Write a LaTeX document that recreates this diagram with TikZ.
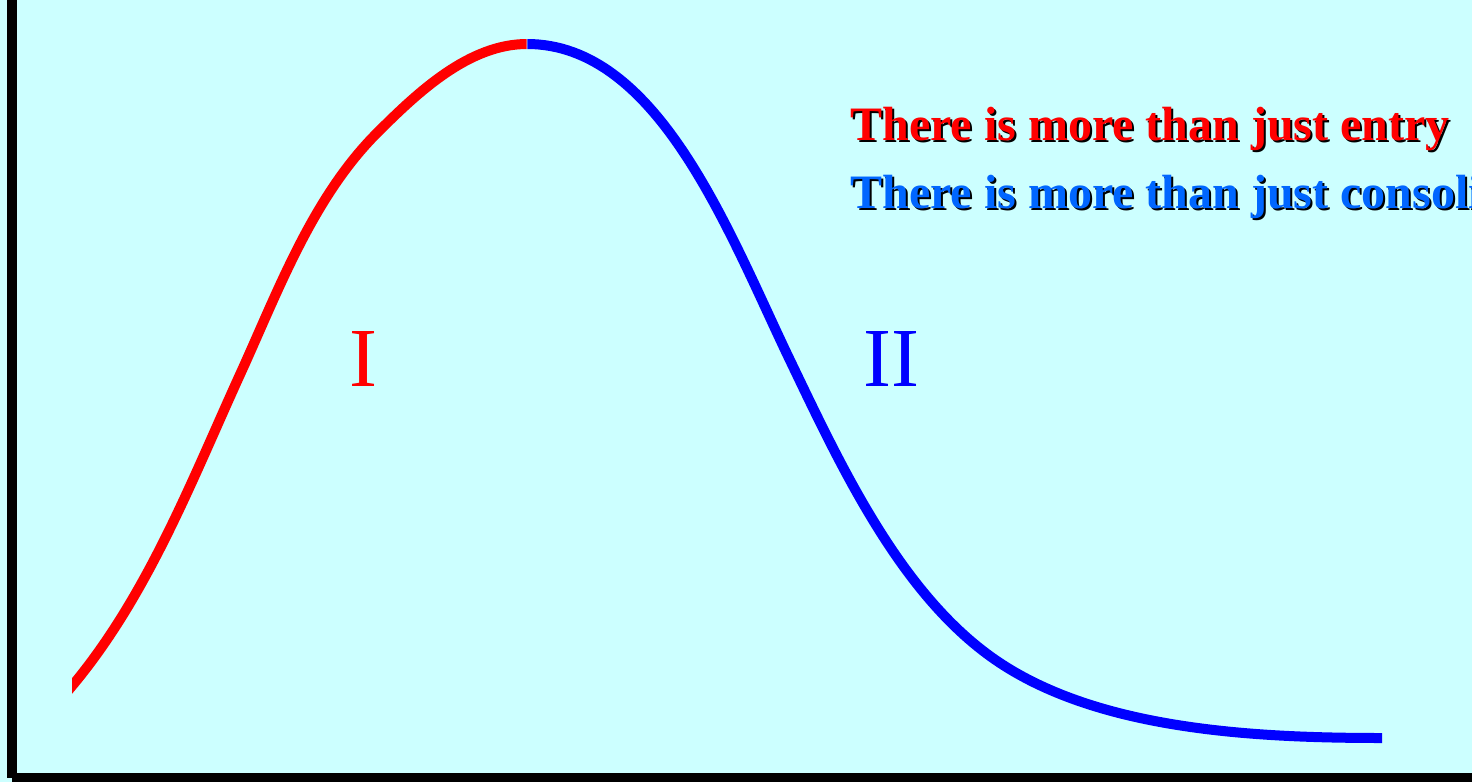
\documentclass[tikz,border=0pt]{standalone}
\usepackage{fontspec}
\setmainfont{Liberation Serif}
\definecolor{bg}{HTML}{CCFFFF}
\definecolor{curvered}{HTML}{FF0000}
\definecolor{curveblue}{HTML}{0000FF}
\definecolor{textblue}{HTML}{0066FF}
\tikzset{
  curve/.style={line width=5pt, line cap=butt, line join=round},
  heading/.style={anchor=base west, inner sep=0pt, font=\fontsize{24}{28}\selectfont\bfseries},
  phase/.style={anchor=base, inner sep=0pt, font=\fontsize{42}{48}\selectfont},
  axis/.style={fill=black}
}
\begin{document}
\begin{tikzpicture}[x=0.5pt,y=-0.5pt]
\fill[bg] (0,0) rectangle (1472,782);
\useasboundingbox (0,0) rectangle (1472,782);
\clip (0,0) rectangle (1472,782);
% axes
\fill[axis] (7,0) rectangle (17,778);
\fill[axis] (12,773) rectangle (1472,782);
% curve points
\coordinate (r0) at (62,698);
\coordinate (r1) at (72,686);
\coordinate (r2) at (243,368);
\coordinate (r3) at (377,133);
\coordinate (peak) at (527,44);
\coordinate (b1) at (787,354);
\coordinate (b2) at (1000,663);
\coordinate (b3) at (1382,738);
% red rising part
\begin{scope}
\clip (72,0) rectangle (526.6,782);
\draw[curve, curvered] (r0) -- (r1)
  .. controls (149,594) and (193,477) .. (r2)
  .. controls (280,286) and (314,196) .. (r3)
  .. controls (418,92) and (469,44) .. (peak);
\end{scope}
% blue falling part
\begin{scope}
\clip (527.4,0) rectangle (1382,782);
\draw[curve, curveblue] (peak)
  .. controls (657,44) and (727,228) .. (b1)
  .. controls (839,462) and (900,597) .. (b2)
  .. controls (1100,729) and (1250,738) .. (b3);
\end{scope}
% labels
\node[phase, text=curvered] (one) at (363,386) {I};
\node[phase, text=curveblue] (two) at (891,386) {II};
% headings with shadow
\node[heading, text=black] (entryshadow) at (852,142) {There is more than just entry};
\node[heading, text=curvered] (entry) at (850,140) {There is more than just entry};
\node[heading, text=black] (consshadow) at (852,210) {There is more than just consolidation};
\node[heading, text=textblue] (cons) at (850,208) {There is more than just consolidation};
\end{tikzpicture}
\end{document}
